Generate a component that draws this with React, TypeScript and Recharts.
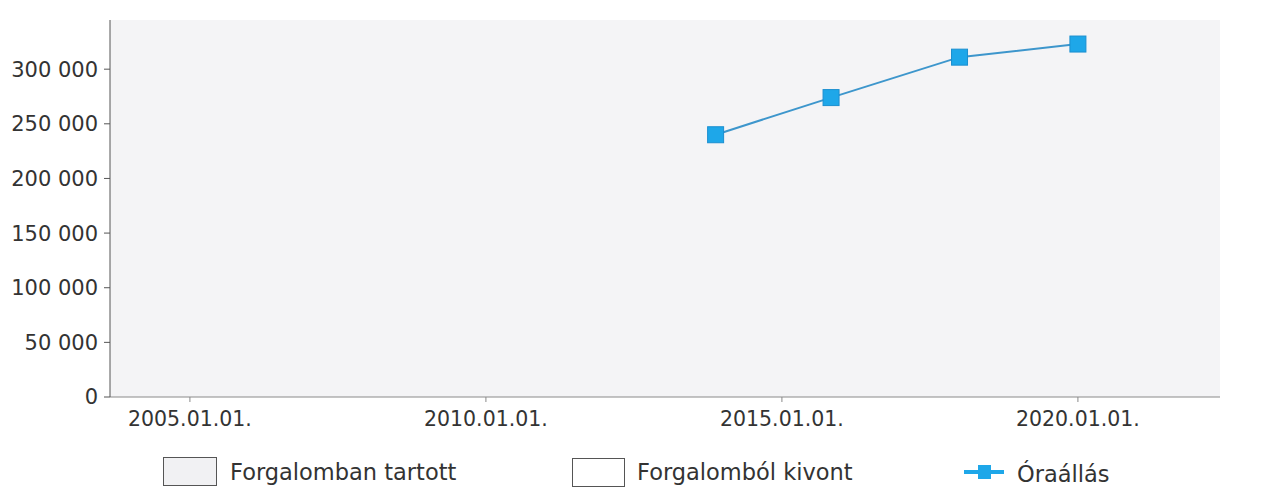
import React from "react";
import { ComposedChart, Line, XAxis, YAxis, CartesianGrid, Legend } from "recharts";

const yearPositions = [2013.88, 2015.83, 2018.0, 2020.0];
const hourMeterValues = [240000, 274000, 311000, 323000];
const xTicks = [2005, 2010, 2015, 2020];
const yTicks = [0, 50000, 100000, 150000, 200000, 250000, 300000];
const legendLabels = ["Forgalomban tartott", "Forgalomból kivont", "Óraállás"];

const data = yearPositions.map((x, i) => ({ x, value: hourMeterValues[i] }));

const FONT = "'DejaVu Sans', Verdana, sans-serif";
const TEXT = "#333";
const BLUE = "#1ea7e9";

const fmtY = (v: number) => {
  const s = String(v);
  return s.replace(/\B(?=(\d{3})+(?!\d))/g, " ");
};

const SquareDot = (props: any) => {
  const { cx, cy, index } = props;
  if (cx == null || cy == null) return null;
  return <rect key={index} x={cx - 8} y={cy - 8} width={16} height={16} fill={BLUE} stroke="#1b8fd0" strokeWidth={1} />;
};

const LegendContent = () => (
  <div style={{ position: "relative", width: 1286, height: 40, fontFamily: FONT, fontSize: 22.5, color: TEXT }}>
    <div style={{ position: "absolute", left: 163, top: 7, width: 52, height: 27, background: "#f1f1f3", border: "1.5px solid #555" }} />
    <div style={{ position: "absolute", left: 230, top: 7, lineHeight: "30px" }}>{legendLabels[0]}</div>
    <div style={{ position: "absolute", left: 572, top: 8, width: 51, height: 27, background: "#fff", border: "1.5px solid #555" }} />
    <div style={{ position: "absolute", left: 637, top: 7, lineHeight: "30px" }}>{legendLabels[1]}</div>
    <svg style={{ position: "absolute", left: 963, top: 12 }} width={42} height={20}>
      <line x1={1} y1={10} x2={41} y2={10} stroke={BLUE} strokeWidth={4} />
      <rect x={15} y={3} width={13} height={14} fill={BLUE} />
    </svg>
    <div style={{ position: "absolute", left: 1017, top: 9, lineHeight: "30px" }}>{legendLabels[2]}</div>
  </div>
);

export default function App() {
  return (
    <div style={{ position: "absolute", left: 0, top: 0, width: 1286, height: 493, background: "#fff" }}>
      <ComposedChart
        width={1286}
        height={493}
        data={data}
        margin={{ top: 20, right: 66, left: 0, bottom: 16 }}
      >
        <CartesianGrid horizontal={false} vertical={false} fill="#f4f4f6" />
        <XAxis
          dataKey="x"
          type="number"
          domain={[2003.65, 2022.4]}
          ticks={xTicks}
          tickFormatter={(v: number) => `${v}.01.01.`}
          height={40}
          tickSize={5}
          tickMargin={9}
          stroke="#8a8a8a"
          tick={{ fill: TEXT, fontSize: 20.5, fontFamily: FONT }}
          allowDataOverflow
        />
        <YAxis
          type="number"
          domain={[0, 345000]}
          ticks={yTicks}
          tickFormatter={fmtY}
          width={110}
          tickSize={6}
          tickMargin={6}
          stroke="#555"
          tick={{ fill: TEXT, fontSize: 21, fontFamily: FONT }}
          allowDataOverflow
        />
        <Legend
          verticalAlign="bottom"
          content={<LegendContent />}
          wrapperStyle={{ left: 0, top: 450, width: 1286, height: 40 }}
        />
        <Line
          dataKey="value"
          stroke="#3d96cc"
          strokeWidth={2}
          dot={<SquareDot />}
          activeDot={false}
          isAnimationActive={false}
        />
      </ComposedChart>
    </div>
  );
}
